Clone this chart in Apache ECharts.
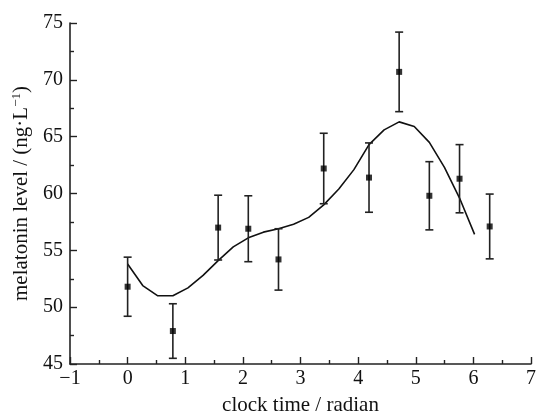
<!DOCTYPE html>
<html><head><meta charset="utf-8">
<script src="https://cdn.jsdelivr.net/npm/echarts@6/dist/echarts.min.js"></script>
<style>html,body{margin:0;padding:0;background:#fff}#c{width:538px;height:413px}</style>
</head><body><div id="c"></div>
<script>
// measured points (clock time in radians)
var obsX = [0, 0.785, 1.571, 2.094, 2.618, 3.403, 4.189, 4.712, 5.236, 5.760, 6.283];
var obsMean = [51.8, 47.9, 57.0, 56.9, 54.2, 62.2, 61.4, 70.7, 59.8, 61.3, 57.1];
var obsErr = [2.6, 2.4, 2.85, 2.9, 2.7, 3.1, 3.05, 3.5, 3.0, 3.0, 2.85];
// fitted curve (hourly)
var fitX = [0, 0.262, 0.524, 0.785, 1.047, 1.309, 1.571, 1.833, 2.094, 2.356, 2.618, 2.880, 3.142, 3.403, 3.665, 3.927, 4.189, 4.451, 4.712, 4.974, 5.236, 5.498, 5.760, 6.021];
var fitY = [53.8, 51.9, 51.0, 51.0, 51.7, 52.8, 54.1, 55.3, 56.1, 56.6, 56.9, 57.3, 57.9, 59.0, 60.4, 62.1, 64.3, 65.6, 66.3, 65.9, 64.5, 62.3, 59.6, 56.4];
var xTicks = [-1, 0, 1, 2, 3, 4, 5, 6, 7];
var yTicks = [45, 50, 55, 60, 65, 70, 75];

var ebData = obsX.map(function (x, i) { return [x, obsMean[i] - obsErr[i], obsMean[i] + obsErr[i]]; });
var ptData = obsX.map(function (x, i) { return [x, obsMean[i]]; });
var fitData = fitX.map(function (x, i) { return [x, fitY[i]]; });

var font = 'Liberation Serif, Times New Roman, serif';
var axCol = '#222';
var chart = echarts.init(document.getElementById('c'), null, {renderer: 'canvas'});
chart.setOption({
  animation: false,
  grid: {left: 70, right: 7, top: 23, bottom: 49, containLabel: false, outerBoundsMode: 'none'},
  xAxis: {
    type: 'value', min: xTicks[0], max: xTicks[xTicks.length - 1], interval: 1,
    name: 'clock time / radian', nameLocation: 'middle', nameGap: 31,
    nameTextStyle: {fontFamily: font, fontSize: 21, color: '#111'},
    axisLine: {onZero: false, lineStyle: {color: axCol, width: 1.6}},
    axisTick: {inside: true, length: 7, lineStyle: {color: axCol, width: 1.4}},
    minorTick: {show: true, splitNumber: 2, length: 4, lineStyle: {color: axCol, width: 1.4}},
    splitLine: {show: false},
    axisLabel: {fontFamily: font, fontSize: 20, color: '#111', margin: 5,
      formatter: function (v) { return v < 0 ? '\u2212' + Math.abs(v) : String(v); }}
  },
  yAxis: {
    type: 'value', min: yTicks[0], max: yTicks[yTicks.length - 1], interval: 5,
    name: '{n|melatonin level / (ng·L}{s|\u22121}{n|)}', nameLocation: 'middle', nameGap: 35,
    nameTextStyle: {fontFamily: font, fontSize: 21, color: '#111',
      rich: {n: {fontFamily: font, fontSize: 21, color: '#111'},
             s: {fontFamily: font, fontSize: 13, color: '#111', verticalAlign: 'top', padding: [0, 0, 10, 0]}}},
    axisLine: {show: true, onZero: false, lineStyle: {color: axCol, width: 1.6}},
    axisTick: {show: true, inside: true, length: 7, lineStyle: {color: axCol, width: 1.4}},
    minorTick: {show: true, splitNumber: 2, length: 4, lineStyle: {color: axCol, width: 1.4}},
    splitLine: {show: false},
    axisLabel: {fontFamily: font, fontSize: 20, color: '#111', margin: 7}
  },
  series: [
    {type: 'line', data: fitData, showSymbol: false, symbol: 'none', lineStyle: {color: '#111', width: 1.6}, z: 2},
    {
      type: 'custom', data: ebData, z: 3,
      renderItem: function (params, api) {
        var x = api.value(0);
        var lo = api.coord([x, api.value(1)]);
        var hi = api.coord([x, api.value(2)]);
        var hw = 4;
        var st = {stroke: '#222', lineWidth: 1.6};
        return {type: 'group', children: [
          {type: 'line', shape: {x1: lo[0], y1: lo[1], x2: hi[0], y2: hi[1]}, style: st},
          {type: 'line', shape: {x1: lo[0] - hw, y1: lo[1], x2: lo[0] + hw, y2: lo[1]}, style: st},
          {type: 'line', shape: {x1: hi[0] - hw, y1: hi[1], x2: hi[0] + hw, y2: hi[1]}, style: st}
        ]};
      }
    },
    {type: 'scatter', data: ptData, symbol: 'rect', symbolSize: 6, z: 4, itemStyle: {color: '#000'}}
  ]
});
</script></body></html>
